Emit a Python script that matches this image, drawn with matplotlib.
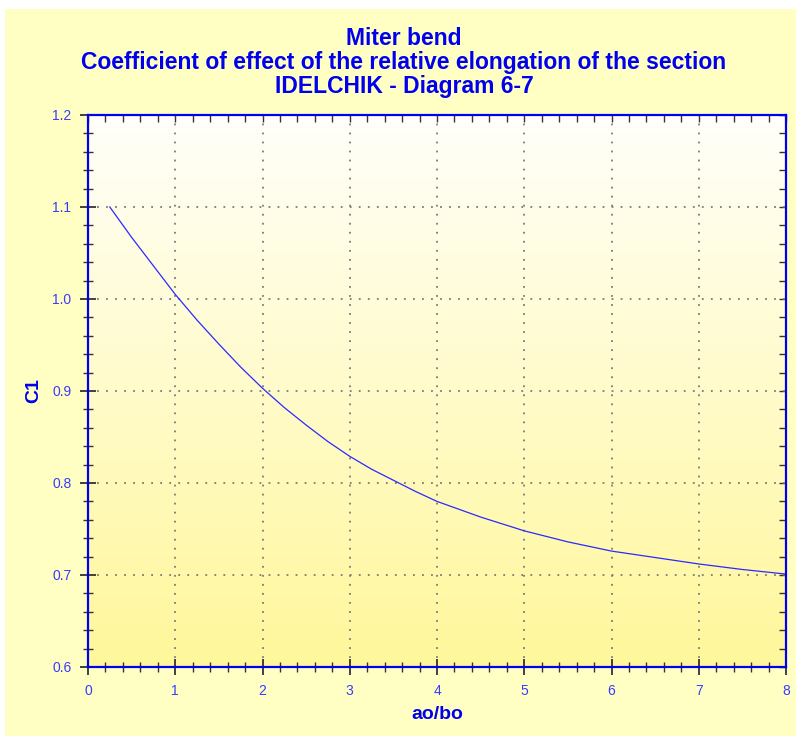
import numpy as np
import matplotlib
matplotlib.use("Agg")
import matplotlib.pyplot as plt
from matplotlib.ticker import MultipleLocator, AutoMinorLocator
from matplotlib.patches import Rectangle

# values
ratio = [0.25, 0.5, 0.75, 1.0, 1.25, 1.5, 1.75, 2.0, 2.25, 2.5, 2.75, 3.0,
         3.25, 3.5, 3.75, 4.0, 4.5, 5.0, 5.5, 6.0, 6.5, 7.0, 7.5, 8.0]
c1 = [1.100, 1.067, 1.036, 1.005, 0.977, 0.951, 0.926, 0.903, 0.882, 0.863,
      0.845, 0.829, 0.815, 0.803, 0.791, 0.780, 0.763, 0.748, 0.736, 0.726,
      0.719, 0.712, 0.706, 0.701]

title_lines = ["Miter bend",
               "Coefficient of effect of the relative elongation of the section",
               "IDELCHIK - Diagram 6-7"]

BLUE = "#0000ee"
TICK_BLUE = "#3a3aff"
BG = "#ffffc4"

plt.rcParams['font.family'] = ['Liberation Sans', 'DejaVu Sans']

fig = plt.figure(figsize=(7.96, 7.36), dpi=100, facecolor="white")
# yellow panel with thin white strip at top and left
fig.patches.append(Rectangle((5 / 796, 0), 1, 1 - 9 / 736, transform=fig.transFigure,
                             facecolor=BG, edgecolor="none", zorder=-10))

ax = fig.add_axes([88 / 796, 69 / 736, 698 / 796, 552 / 736])
ax.set_xlim(0, 8)
ax.set_ylim(0.6, 1.2)

# white-to-yellow gradient inside the plot area
grad = np.linspace(0, 1, 256).reshape(-1, 1)
cmap = matplotlib.colors.LinearSegmentedColormap.from_list("bg", ["#fff79a", "#fffffa"])
ax.imshow(grad, extent=[0, 8, 0.6, 1.2], aspect="auto", origin="lower",
          cmap=cmap, zorder=0)

ax.plot(ratio, c1, color="#2a2aff", lw=0.9, zorder=3)

ax.xaxis.set_major_locator(MultipleLocator(1))
ax.xaxis.set_minor_locator(AutoMinorLocator(5))
ax.yaxis.set_major_locator(MultipleLocator(0.1))
ax.yaxis.set_minor_locator(AutoMinorLocator(5))
ax.yaxis.set_major_formatter(matplotlib.ticker.FormatStrFormatter("%.1f"))

ax.grid(True, which="major", color="#7a7a7a", linestyle=(0, (1, 4)), lw=1.3, zorder=1)
ax.set_axisbelow(False)

ax.tick_params(which="major", direction="inout", length=12, width=1.3,
               color="#333333", labelsize=10, labelcolor=TICK_BLUE, pad=6)
ax.tick_params(which="minor", direction="inout", length=7, width=1.0, color="#333333")

for s in ax.spines.values():
    s.set_color(BLUE)
    s.set_linewidth(1.6)
    s.set_zorder(4)

# top and right: inward ticks only, no labels
top = ax.secondary_xaxis("top")
top.xaxis.set_major_locator(MultipleLocator(1))
top.xaxis.set_minor_locator(AutoMinorLocator(5))
top.tick_params(which="both", direction="in", length=5, width=1.0, color="#333333",
                labeltop=False)
top.spines["top"].set_visible(False)
right = ax.secondary_yaxis("right")
right.yaxis.set_major_locator(MultipleLocator(0.1))
right.yaxis.set_minor_locator(AutoMinorLocator(5))
right.tick_params(which="both", direction="in", length=5, width=1.0, color="#333333",
                  labelright=False)
right.spines["right"].set_visible(False)

ax.set_xlabel("ao/bo", fontsize=14, fontweight="bold", color=BLUE, labelpad=6)
ax.set_ylabel("C1", fontsize=14, fontweight="bold", color=BLUE, labelpad=7)

fig.text(0.5 + 6 / 796, 1 - 27 / 736, "\n".join(title_lines), ha="center", va="top",
         fontsize=16.5, fontweight="bold", color=BLUE, linespacing=1.05)

fig.savefig("out.png", dpi=100, facecolor=fig.get_facecolor())
